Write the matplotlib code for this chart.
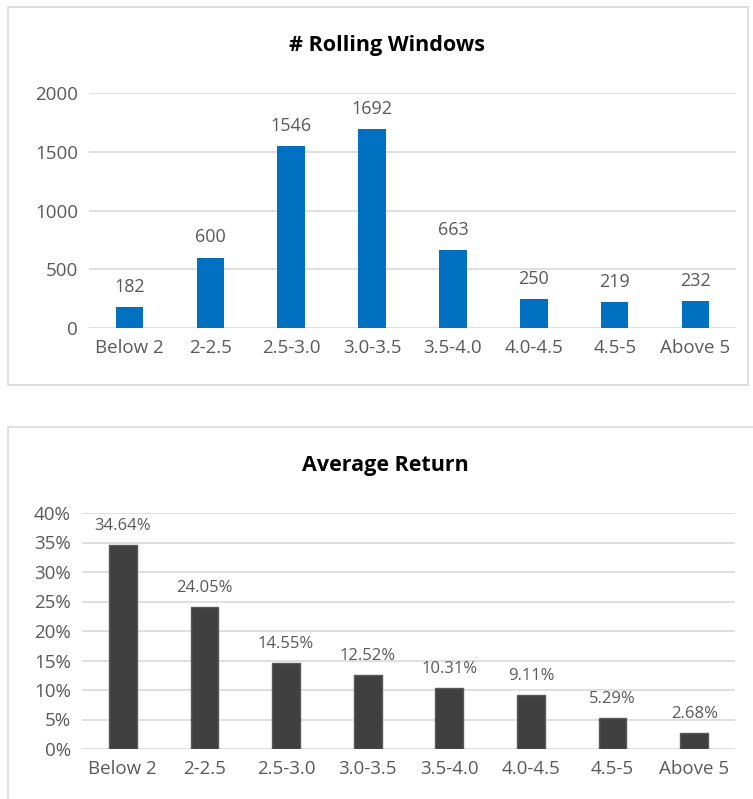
import matplotlib.pyplot as plt
from matplotlib.patches import Rectangle
from matplotlib.ticker import FuncFormatter

categories = ['Below 2', '2-2.5', '2.5-3.0', '3.0-3.5', '3.5-4.0', '4.0-4.5', '4.5-5', 'Above 5']
windows = [182, 600, 1546, 1692, 663, 250, 219, 232]
avg_return = [34.64, 24.05, 14.55, 12.52, 10.31, 9.11, 5.29, 2.68]

plt.rcParams['font.family'] = ['Open Sans', 'DejaVu Sans']
text_col = '#595959'
grid_col = '#d9d9d9'

fig = plt.figure(figsize=(7.53, 7.99), dpi=100)
W, H = 753, 799

# chart boxes
fig.patches.append(Rectangle((8 / W, 1 - 385 / H), 740 / W, 378 / H, transform=fig.transFigure,
                             fill=False, edgecolor=grid_col, linewidth=1.2))
fig.patches.append(Rectangle((8 / W, -0.05), 1.0, 1 - 427 / H + 0.05, transform=fig.transFigure,
                             fill=False, edgecolor=grid_col, linewidth=1.2))


def style(ax):
    for s in ax.spines.values():
        s.set_visible(False)
    ax.grid(axis='y', color=grid_col, linewidth=1.2)
    ax.set_axisbelow(True)
    ax.tick_params(length=0, labelsize=13.5, colors=text_col, pad=8)
    ax.tick_params(axis='x', pad=8)
    ax.set_xlim(-0.5, len(categories) - 0.5)


# top chart
ax1 = fig.add_axes([89 / W, 1 - 328 / H, 647 / W, 235 / H])
x = range(len(categories))
ax1.bar(x, windows, width=0.34, color='#0070C0')
ax1.set_ylim(0, 2000)
ax1.set_yticks([0, 500, 1000, 1500, 2000])
ax1.set_xticks(list(x))
ax1.set_xticklabels(categories)
style(ax1)
for i, v in enumerate(windows):
    ax1.annotate(str(v), (i, v), xytext=(0, 8), textcoords='offset points',
                 ha='center', va='bottom', fontsize=13, color=text_col)
fig.text(387 / W, 1 - 46 / H, '# Rolling Windows', ha='center', va='center',
         fontsize=15.5, fontweight='bold', color='black')

# bottom chart
ax2 = fig.add_axes([82 / W, 1 - 749 / H, 653 / W, 236 / H])
ax2.bar(x, avg_return, width=0.34, color='#404040', edgecolor='#595959', linewidth=1)
ax2.set_ylim(0, 40)
ax2.set_yticks(range(0, 41, 5))
ax2.yaxis.set_major_formatter(FuncFormatter(lambda v, p: '%d%%' % v))
ax2.set_xticks(list(x))
ax2.set_xticklabels(categories)
style(ax2)
for i, v in enumerate(avg_return):
    ax2.annotate('%.2f%%' % v, (i, v), xytext=(0, 8), textcoords='offset points',
                 ha='center', va='bottom', fontsize=12, color=text_col)
fig.text(385 / W, 1 - 465 / H, 'Average Return', ha='center', va='center',
         fontsize=15.5, fontweight='bold', color='black')

fig.savefig('out.png', dpi=100)
